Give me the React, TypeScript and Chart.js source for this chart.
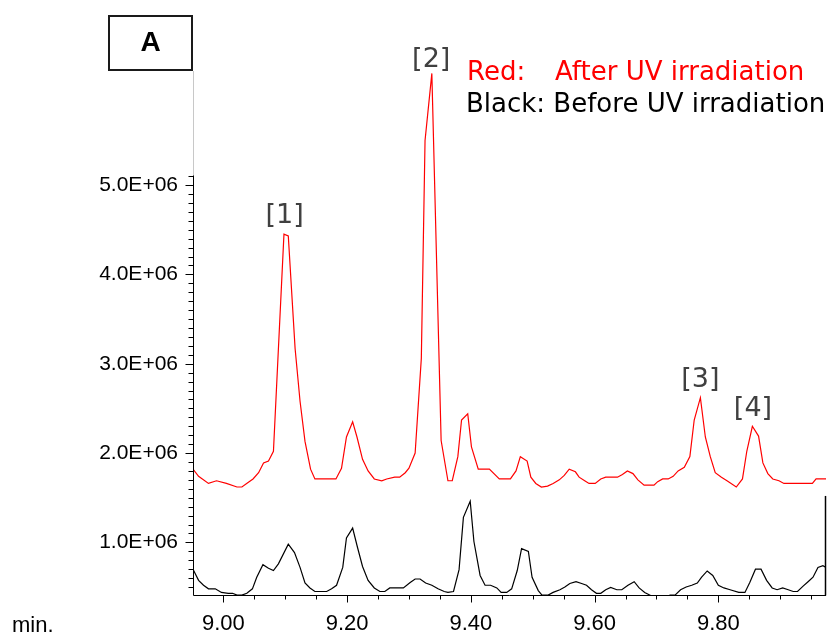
import React, { useEffect, useRef } from "react";
import { Chart, registerables } from "chart.js";
Chart.register(...registerables);

// Retention time (min) and intensity (×1e6) — red: after UV irradiation
const redTimes = [8.951, 8.96, 8.976, 8.989, 9.005, 9.022, 9.03, 9.04, 9.048, 9.057, 9.065, 9.073, 9.081, 9.098, 9.105, 9.116, 9.124, 9.132, 9.141, 9.148, 9.182, 9.191, 9.199, 9.209, 9.216, 9.225, 9.234, 9.244, 9.256, 9.264, 9.277, 9.285, 9.294, 9.3, 9.31, 9.32, 9.326, 9.337, 9.352, 9.363, 9.37, 9.379, 9.385, 9.395, 9.401, 9.412, 9.43, 9.446, 9.464, 9.473, 9.48, 9.491, 9.497, 9.505, 9.514, 9.524, 9.533, 9.543, 9.551, 9.559, 9.569, 9.575, 9.584, 9.591, 9.601, 9.61, 9.618, 9.637, 9.645, 9.653, 9.662, 9.67, 9.68, 9.696, 9.702, 9.71, 9.719, 9.727, 9.735, 9.745, 9.754, 9.761, 9.771, 9.779, 9.787, 9.795, 9.805, 9.814, 9.829, 9.839, 9.846, 9.855, 9.865, 9.872, 9.88, 9.888, 9.898, 9.906, 9.952, 9.958, 9.974];
const redValues = [1.82, 1.74, 1.66, 1.69, 1.66, 1.62, 1.62, 1.67, 1.71, 1.78, 1.89, 1.91, 2.02, 4.45, 4.43, 3.17, 2.58, 2.13, 1.82, 1.71, 1.71, 1.83, 2.18, 2.35, 2.18, 1.93, 1.8, 1.71, 1.69, 1.71, 1.73, 1.73, 1.78, 1.83, 2.0, 3.06, 5.5, 6.25, 2.14, 1.69, 1.69, 1.96, 2.37, 2.44, 2.07, 1.82, 1.82, 1.71, 1.71, 1.8, 1.96, 1.91, 1.73, 1.66, 1.62, 1.63, 1.66, 1.7, 1.75, 1.82, 1.79, 1.73, 1.69, 1.66, 1.66, 1.71, 1.73, 1.73, 1.76, 1.8, 1.77, 1.7, 1.64, 1.64, 1.68, 1.71, 1.71, 1.74, 1.8, 1.84, 1.96, 2.37, 2.62, 2.18, 1.96, 1.78, 1.73, 1.69, 1.62, 1.71, 2.02, 2.3, 2.19, 1.89, 1.77, 1.71, 1.69, 1.66, 1.66, 1.71, 1.71];

// black: before UV irradiation
const blackTimes = [8.951, 8.96, 8.968, 8.976, 8.987, 8.997, 9.008, 9.015, 9.022, 9.03, 9.038, 9.047, 9.054, 9.064, 9.073, 9.081, 9.089, 9.105, 9.115, 9.124, 9.132, 9.14, 9.148, 9.167, 9.175, 9.183, 9.193, 9.199, 9.209, 9.217, 9.225, 9.234, 9.244, 9.253, 9.261, 9.269, 9.291, 9.302, 9.31, 9.318, 9.327, 9.337, 9.347, 9.357, 9.363, 9.372, 9.381, 9.388, 9.399, 9.405, 9.415, 9.423, 9.432, 9.442, 9.449, 9.458, 9.466, 9.475, 9.482, 9.493, 9.499, 9.509, 9.515, 9.525, 9.533, 9.544, 9.552, 9.56, 9.57, 9.579, 9.587, 9.595, 9.603, 9.61, 9.618, 9.626, 9.636, 9.644, 9.654, 9.664, 9.672, 9.681, 9.692, 9.7, 9.714, 9.722, 9.73, 9.739, 9.748, 9.757, 9.766, 9.773, 9.782, 9.791, 9.8, 9.809, 9.819, 9.833, 9.843, 9.851, 9.86, 9.869, 9.878, 9.887, 9.895, 9.904, 9.913, 9.921, 9.928, 9.937, 9.945, 9.953, 9.961, 9.969, 9.974];
const blackValues = [0.7, 0.575, 0.52, 0.48, 0.48, 0.44, 0.43, 0.43, 0.41, 0.41, 0.43, 0.48, 0.61, 0.75, 0.71, 0.685, 0.76, 0.98, 0.886, 0.72, 0.545, 0.49, 0.45, 0.45, 0.48, 0.52, 0.72, 1.05, 1.16, 0.94, 0.73, 0.575, 0.49, 0.45, 0.45, 0.49, 0.49, 0.55, 0.59, 0.59, 0.545, 0.52, 0.48, 0.45, 0.44, 0.45, 0.695, 1.28, 1.46, 1.01, 0.63, 0.52, 0.52, 0.49, 0.44, 0.44, 0.48, 0.685, 0.93, 0.9, 0.61, 0.46, 0.41, 0.41, 0.44, 0.47, 0.5, 0.54, 0.56, 0.54, 0.52, 0.47, 0.43, 0.43, 0.47, 0.495, 0.47, 0.47, 0.52, 0.56, 0.49, 0.44, 0.4, 0.38, 0.38, 0.41, 0.41, 0.47, 0.5, 0.52, 0.545, 0.61, 0.68, 0.63, 0.52, 0.49, 0.47, 0.44, 0.44, 0.555, 0.7, 0.7, 0.575, 0.49, 0.47, 0.49, 0.47, 0.45, 0.45, 0.51, 0.56, 0.61, 0.72, 0.74, 0.72];

const xTickValues = [9.0, 9.2, 9.4, 9.6, 9.8];
const yTickValues = [1, 2, 3, 4, 5];
const peakLabels = ["[1]", "[2]", "[3]", "[4]"];
const peakLabelTimes = [9.099, 9.336, 9.771, 9.856];
const peakLabelValues = [4.65, 6.404, 2.815, 2.497];
const legendRed = ["Red:", "After UV irradiation"];
const legendBlack = "Black: Before UV irradiation";
const panelLabel = "A";
const xUnitLabel = "min.";

const X_MIN = 8.951;
const X_MAX = 9.974;
const Y_MIN = 0.411;
const Y_MAX = 6.763;
const Y_AXIS_TOP = 5.11;
const RIGHT_LINE_TOP = 1.52;

const SANS = "'Liberation Sans', Arial, sans-serif";
const LEGEND_FONT = "'DejaVu Sans', Verdana, sans-serif";

const decorPlugin = {
  id: "decor",
  afterDraw(chart: any) {
    const { ctx, chartArea } = chart;
    const xs = chart.scales.x;
    const ys = chart.scales.y;
    ctx.save();
    ctx.strokeStyle = "#000";
    ctx.lineWidth = 1;
    const axX = Math.round(chartArea.left) + 0.5;
    const axY = Math.round(chartArea.bottom) + 0.5;
    const yTop = ys.getPixelForValue(Y_AXIS_TOP);
    // axes
    ctx.beginPath();
    ctx.moveTo(axX, yTop);
    ctx.lineTo(axX, axY);
    ctx.lineTo(chartArea.right, axY);
    ctx.stroke();
    // x ticks
    ctx.beginPath();
    for (let k = 1; k <= 20; k++) {
      const t = 8.95 + 0.05 * k;
      const px = Math.round(xs.getPixelForValue(t)) + 0.5;
      const q = (t - 9.0) / 0.2;
      const major = Math.abs(q - Math.round(q)) < 1e-6;
      ctx.moveTo(px, axY);
      ctx.lineTo(px, axY + (major ? 7 : 4));
    }
    ctx.stroke();
    // y ticks
    ctx.beginPath();
    for (let k = 5; k <= 51; k++) {
      const py = Math.round(ys.getPixelForValue(k / 10)) + 0.5;
      const major = k % 10 === 0;
      ctx.moveTo(axX, py);
      ctx.lineTo(axX - (major ? 8 : 5), py);
    }
    ctx.stroke();
    // faint extension line up to panel box
    ctx.strokeStyle = "#c8c8c8";
    ctx.beginPath();
    ctx.moveTo(axX, 71);
    ctx.lineTo(axX, yTop);
    ctx.stroke();
    // right end line
    ctx.strokeStyle = "#000";
    ctx.lineWidth = 1.5;
    ctx.beginPath();
    ctx.moveTo(chartArea.right - 0.5, ys.getPixelForValue(RIGHT_LINE_TOP));
    ctx.lineTo(chartArea.right - 0.5, axY);
    ctx.stroke();
    // panel box
    ctx.lineWidth = 2;
    ctx.strokeStyle = "#1a1a1a";
    ctx.strokeRect(109, 16, 83, 54);
    ctx.fillStyle = "#000";
    ctx.font = `bold 28px ${SANS}`;
    ctx.textAlign = "center";
    ctx.textBaseline = "middle";
    ctx.fillText(panelLabel, 150.5, 43);
    // legend
    ctx.font = `26px ${LEGEND_FONT}`;
    ctx.textAlign = "left";
    ctx.textBaseline = "alphabetic";
    ctx.fillStyle = "#ff0000";
    ctx.fillText(legendRed[0], 467, 80);
    ctx.fillText(legendRed[1], 555, 80);
    ctx.fillStyle = "#000";
    ctx.fillText(legendBlack, 466, 111.5);
    // peak labels
    ctx.font = `27px ${LEGEND_FONT}`;
    ctx.fillStyle = "#404040";
    ctx.textAlign = "center";
    ctx.textBaseline = "middle";
    peakLabels.forEach((lab, i) => {
      ctx.fillText(lab, xs.getPixelForValue(peakLabelTimes[i]), ys.getPixelForValue(peakLabelValues[i]));
    });
    // x unit
    ctx.font = `22px ${SANS}`;
    ctx.fillStyle = "#000";
    ctx.textAlign = "left";
    ctx.textBaseline = "alphabetic";
    ctx.fillText(xUnitLabel, 12, 632);
    ctx.restore();
  },
};

export default function App() {
  const ref = useRef<HTMLCanvasElement | null>(null);
  useEffect(() => {
    document.body.style.margin = "0";
    const canvas = ref.current!;
    const chart = new Chart(canvas, {
      type: "line",
      data: {
        datasets: [
          {
            label: "Before UV irradiation",
            data: blackTimes.map((t, i) => ({ x: t, y: blackValues[i] })),
            borderColor: "#000000",
            borderWidth: 1.2,
            pointRadius: 0,
            tension: 0,
            fill: false,
          },
          {
            label: "After UV irradiation",
            data: redTimes.map((t, i) => ({ x: t, y: redValues[i] })),
            borderColor: "#ff0000",
            borderWidth: 1.2,
            pointRadius: 0,
            tension: 0,
            fill: false,
          },
        ],
      },
      options: {
        responsive: false,
        animation: false,
        events: [],
        layout: { padding: { top: 15, right: 3, left: 0, bottom: 0 } },
        plugins: { legend: { display: false }, tooltip: { enabled: false } },
        scales: {
          x: {
            type: "linear",
            min: X_MIN,
            max: X_MAX,
            grid: { display: false, drawTicks: false },
            border: { display: false },
            afterBuildTicks: (s: any) => {
              s.ticks = xTickValues.map((v) => ({ value: v }));
            },
            afterFit: (s: any) => {
              s.height = 42;
            },
            ticks: {
              autoSkip: false,
              maxRotation: 0,
              padding: 16,
              color: "#000",
              font: { family: SANS, size: 22 },
              callback: (v: any) => Number(v).toFixed(2),
            },
          },
          y: {
            type: "linear",
            min: Y_MIN,
            max: Y_MAX,
            grid: { display: false, drawTicks: false },
            border: { display: false },
            afterBuildTicks: (s: any) => {
              s.ticks = yTickValues.map((v) => ({ value: v }));
            },
            afterFit: (s: any) => {
              s.width = 193;
            },
            ticks: {
              autoSkip: false,
              padding: 15,
              color: "#000",
              font: { family: SANS, size: 21 },
              callback: (v: any) => `${Number(v).toFixed(1)}E+06`,
            },
          },
        },
      },
      plugins: [decorPlugin],
    });
    return () => chart.destroy();
  }, []);
  return (
    <div style={{ position: "absolute", left: 0, top: 0, width: 829, height: 637, background: "#fff" }}>
      <canvas ref={ref} width={829} height={637} />
    </div>
  );
}
